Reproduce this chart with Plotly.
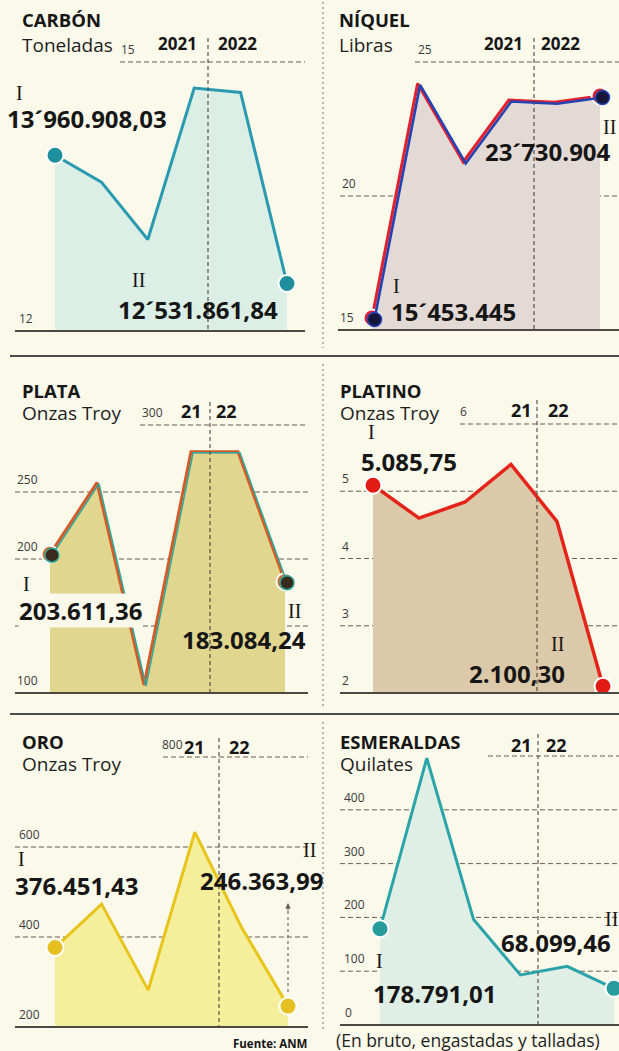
import plotly.graph_objects as go

W, H = 619, 1051
BG = "#fbf9ea"
INK = "#161616"
GRID = "#6b5d55"

# ---------------- data ----------------
quarters = ["2021-I", "2021-II", "2021-III", "2021-IV", "2022-I", "2022-II"]

carbon_mt = [13.96, 13.66, 13.02, 14.71, 14.66, 12.53]        # millones de toneladas
nickel_mlb = [15.45, 24.20, 21.27, 23.58, 23.50, 23.73]       # millones de libras
silver_koz = [203.6, 257.0, 106.0, 280.0, 280.0, 183.1]       # miles de onzas troy
platinum_koz = [5.09, 4.60, 4.84, 5.40, 4.55, 2.10]           # miles de onzas troy
gold_koz = [376.5, 473.0, 282.0, 633.0, 422.0, 246.4]         # miles de onzas troy
emerald_kct = [178.8, 496.0, 196.0, 93.0, 109.0, 68.1]        # miles de quilates

carbon_ticks = [12, 15]
carbon_tick_text = ["12", "15"]
nickel_ticks = [15, 20, 25]
nickel_tick_text = ["15", "20", "25"]
silver_ticks = [100, 150, 200, 250, 300]
silver_tick_text = ["100", "", "200", "250", "300"]
platinum_ticks = [2, 3, 4, 5, 6]
platinum_tick_text = ["2", "3", "4", "5", "6"]
gold_ticks = [200, 400, 600, 800]
gold_tick_text = ["200", "400", "600", "800"]
emerald_ticks = [0, 100, 200, 300, 400, 500]
emerald_tick_text = ["0", "100", "200", "300", "400", ""]

carbon_labels = ["13´960.908,03", "12´531.861,84"]
nickel_labels = ["15´453.445", "23´730.904"]
silver_labels = ["203.611,36", "183.084,24"]
platinum_labels = ["5.085,75", "2.100,30"]
gold_labels = ["376.451,43", "246.363,99"]
emerald_labels = ["178.791,01", "68.099,46"]

years_full = ["2021", "2022"]
years_short = ["21", "22"]
period_marks = ["I", "II"]

# ---------------- layout of panels ----------------
panels = [
    dict(name="CARBÓN", unit="Toneladas", vals=carbon_mt, ticks=carbon_ticks, ticktext=carbon_tick_text,
         labels=carbon_labels, years=years_full,
         L=0, R=310, x0=55, x5=287, base=331, top=62,
         grid_x0=[15, 120], grid_x1=305, tick_x=[17, 119],
         div_x=208, div_top=38,
         line="#2a9ab0", lw=3, fill="#dcefe6", mk="#1f8f9e",
         head_x=21, title_y=20, unit_y=45, year_x=[157, 217], year_y=43, year_size=17,
         roman_xy=[(15, 93), (131, 280)], label_xy=[(6, 118), (117, 310)], label_bg=[True, False]),
    dict(name="NÍQUEL", unit="Libras", vals=nickel_mlb, ticks=nickel_ticks, ticktext=nickel_tick_text,
         labels=nickel_labels, years=years_full,
         L=323, R=619, x0=372, x5=600, base=330, top=62,
         grid_x0=[338, 340, 415], grid_x1=619, tick_x=[338, 340, 416],
         div_x=534, div_top=38,
         line="#e3202c", lw=3, fill="#e3d9d5", mk="#e3202c",
         head_x=338, title_y=20, unit_y=45, year_x=[483, 540], year_y=43, year_size=17,
         roman_xy=[(392, 286), (602, 127)], label_xy=[(390, 311), (484, 152)], label_bg=[False, False],
         shadow=dict(line="#2343b4", lw=2.6, mk="#15163a", mkline="#2343b4", dx=2.5, dy=1.5)),
    dict(name="PLATA", unit="Onzas Troy", vals=silver_koz, ticks=silver_ticks, ticktext=silver_tick_text,
         labels=silver_labels, years=years_short,
         L=0, R=310, x0=50, x5=285, base=693, top=425,
         grid_x0=[15, 15, 15, 15, 140], grid_x1=308, tick_x=[15, 15, 15, 15, 140],
         div_x=210, div_top=402,
         line="#d45a28", lw=3, fill="#e0d68e", mk="#d06a30",
         head_x=21, title_y=390, unit_y=413, year_x=[180, 215], year_y=411, year_size=18,
         roman_xy=[(22, 584), (287, 611)], label_xy=[(18, 610), (181, 639)], label_bg=[True, False],
         shadow=dict(line="#2fa79a", lw=1.6, mk="#3a2a1e", mkline="#2fa79a", dx=2.0, dy=1.0)),
    dict(name="PLATINO", unit="Onzas Troy", vals=platinum_koz, ticks=platinum_ticks, ticktext=platinum_tick_text,
         labels=platinum_labels, years=years_short,
         L=323, R=619, x0=373, x5=603, base=693, top=424,
         grid_x0=[340, 340, 340, 340, 460], grid_x1=619, tick_x=[340, 340, 340, 340, 458],
         div_x=537, div_top=400,
         line="#e42418", lw=3.5, fill="#dbc9a9", mk="#e21c14",
         head_x=339, title_y=390, unit_y=413, year_x=[510, 547], year_y=410, year_size=18,
         roman_xy=[(367, 432), (550, 644)], label_xy=[(360, 461), (468, 673)], label_bg=[False, False]),
    dict(name="ORO", unit="Onzas Troy", vals=gold_koz, ticks=gold_ticks, ticktext=gold_tick_text,
         labels=gold_labels, years=years_short,
         L=0, R=310, x0=55, x5=288, base=1027, top=757,
         grid_x0=[15, 15, 15, 163], grid_x1=308, tick_x=[17, 17, 17, 160],
         div_x=219, div_top=738,
         line="#e8c41a", lw=3, fill="#f5ef9c", mk="#e6c020",
         head_x=21, title_y=741, unit_y=764, year_x=[183, 228], year_y=747, year_size=18,
         roman_xy=[(17, 859), (302, 850)], label_xy=[(14, 885), (199, 880)], label_bg=[False, False]),
    dict(name="ESMERALDAS", unit="Quilates", vals=emerald_kct, ticks=emerald_ticks, ticktext=emerald_tick_text,
         labels=emerald_labels, years=years_short,
         L=323, R=619, x0=380, x5=614, base=1025, top=756,
         grid_x0=[340, 340, 340, 340, 340, 488], grid_x1=619, tick_x=[343, 342, 342, 342, 342, 488],
         div_x=538, div_top=734,
         line="#2aa4a8", lw=3, fill="#e0efe6", mk="#279c9c",
         head_x=339, title_y=741, unit_y=764, year_x=[510, 545], year_y=745, year_size=18,
         roman_xy=[(375, 961), (604, 919)], label_xy=[(372, 993), (500, 942)],
         label_bg=[False, False]),
]


def fx(px):
    return px / W


def fy(py):
    return 1 - py / H


PAD = 16


def axis_geom(x0, x5, L, R, base, top, ymin, ymax):
    n = len(quarters) - 1
    s = (x5 - x0) / n
    xr = [-(x0 - L) / s, n + (R - x5) / s]
    ppu = (base - top) / (ymax - ymin)
    yr = [ymin - PAD / ppu, ymax + PAD / ppu]
    xd = [fx(L), fx(R)]
    yd = [fy(base + PAD), fy(top - PAD)]
    return xr, yr, xd, yd


fig = go.Figure()
shapes = []
annotations = []
layout_axes = {}


def txt(text, x, y, size, bold=False, serif=False, color=INK, bg="rgba(0,0,0,0)"):
    annotations.append(dict(
        text=text, x=fx(x), y=fy(y), xref="paper", yref="paper",
        xanchor="left", yanchor="middle", showarrow=False, bgcolor=bg, borderpad=0,
        font=dict(family="Liberation Serif" if serif else "Open Sans", size=size,
                  color=color, weight=700 if bold else 400)))


def add_axes(idx, xr, yr, xd, yd):
    sfx = "" if idx == 1 else str(idx)
    layout_axes["xaxis" + sfx] = dict(domain=xd, range=xr, type="category", visible=False,
                                      categoryorder="array", categoryarray=quarters, fixedrange=True)
    layout_axes["yaxis" + sfx] = dict(domain=yd, range=yr, visible=False, fixedrange=True)
    return ("x" + sfx, "y" + sfx)


next_shadow = len(panels) + 1

for i, p in enumerate(panels, start=1):
    ymin, ymax = p["ticks"][0], p["ticks"][-1]
    xr, yr, xd, yd = axis_geom(p["x0"], p["x5"], p["L"], p["R"], p["base"], p["top"], ymin, ymax)
    xa, ya = add_axes(i, xr, yr, xd, yd)

    # baseline helper for the area fill
    fig.add_trace(go.Scatter(x=quarters, y=[ymin] * len(quarters), mode="lines",
                             line=dict(width=0), xaxis=xa, yaxis=ya, hoverinfo="skip", showlegend=False))
    fig.add_trace(go.Scatter(x=quarters, y=p["vals"], mode="lines", fill="tonexty",
                             fillcolor=p["fill"], line=dict(color=p["line"], width=p["lw"]),
                             xaxis=xa, yaxis=ya, showlegend=False))
    ends_x = [quarters[0], quarters[-1]]
    ends_y = [p["vals"][0], p["vals"][-1]]
    fig.add_trace(go.Scatter(x=ends_x, y=ends_y, mode="markers", cliponaxis=False,
                             marker=dict(size=17, color=p["mk"], line=dict(color="#ffffff", width=2)),
                             xaxis=xa, yaxis=ya, showlegend=False))

    if "shadow" in p:
        sh = p["shadow"]
        sxr, syr, sxd, syd = axis_geom(p["x0"] + sh["dx"], p["x5"] + sh["dx"], p["L"], p["R"],
                                       p["base"] + sh["dy"], p["top"] + sh["dy"], ymin, ymax)
        sxa, sya = add_axes(next_shadow, sxr, syr, sxd, syd)
        next_shadow += 1
        fig.add_trace(go.Scatter(x=quarters, y=p["vals"], mode="lines",
                                 line=dict(color=sh["line"], width=sh["lw"]),
                                 xaxis=sxa, yaxis=sya, showlegend=False))
        fig.add_trace(go.Scatter(x=ends_x, y=ends_y, mode="markers", cliponaxis=False,
                                 marker=dict(size=14, color=sh["mk"], line=dict(color=sh["mkline"], width=1.5)),
                                 xaxis=sxa, yaxis=sya, showlegend=False))

    # grid lines, baseline and tick labels
    for k, (t, tt) in enumerate(zip(p["ticks"], p["ticktext"])):
        base_line = (k == 0)
        shapes.append(dict(type="line", xref="paper", yref=ya, x0=fx(p["grid_x0"][k]), x1=fx(p["grid_x1"]),
                           y0=t, y1=t, layer="above" if base_line else "below",
                           line=dict(color="#4e4844" if base_line else GRID, width=2 if base_line else 1,
                                     dash="solid" if base_line else "5px,3px")))
        if tt:
            annotations.append(dict(text=tt, x=fx(p["tick_x"][k]), y=t, xref="paper", yref=ya,
                                    xanchor="left", yanchor="bottom", yshift=2, showarrow=False,
                                    font=dict(family="Open Sans", size=12, color="#3a3a3a")))

    # year divider
    shapes.append(dict(type="line", xref="paper", yref="paper", x0=fx(p["div_x"]), x1=fx(p["div_x"]),
                       y0=fy(p["div_top"]), y1=fy(p["base"]), layer="above",
                       line=dict(color="#4f4340", width=1.1, dash="4px,3px")))

    # header texts
    txt(p["name"], p["head_x"], p["title_y"], 18.5, bold=True)
    txt(p["unit"], p["head_x"], p["unit_y"], 19, color="#1e1e1e")
    for yx, ylab in zip(p["year_x"], p["years"]):
        txt(ylab, yx, p["year_y"], p["year_size"], bold=True)

    # period marks and value labels
    for (rx, ry), mark in zip(p["roman_xy"], period_marks):
        txt(mark, rx, ry, 20, serif=True)
    for (lx, ly), lab, bg in zip(p["label_xy"], p["labels"], p["label_bg"]):
        txt(lab, lx, ly, 24, bold=True, bg=BG if bg else "rgba(0,0,0,0)")

# dashed arrow in the gold panel (from II marker up to its label)
shapes.append(dict(type="line", xref="x5", yref="paper", x0=quarters[-1], x1=quarters[-1],
                   y0=fy(992), y1=fy(908), line=dict(color=GRID, width=1.1, dash="3px,3px")))
annotations.append(dict(text="", x=quarters[-1], y=fy(903), xref="x5", yref="paper", showarrow=True,
                        ax=0, ay=9, arrowhead=2, arrowsize=1, arrowwidth=1.1, arrowcolor=GRID))

# separators
shapes.append(dict(type="line", xref="paper", yref="paper", x0=fx(10), x1=1, y0=fy(356), y1=fy(356),
                   line=dict(color="#4a4a4a", width=2)))
shapes.append(dict(type="line", xref="paper", yref="paper", x0=fx(10), x1=1, y0=fy(714), y1=fy(714),
                   line=dict(color="#4a4a4a", width=2)))
for (a, b) in [(2, 348), (364, 706), (722, 1030)]:
    shapes.append(dict(type="line", xref="paper", yref="paper", x0=fx(323), x1=fx(323), y0=fy(a), y1=fy(b),
                       line=dict(color="#777066", width=1, dash="2px,3px")))

# footer texts
txt("Fuente: ANM", 232, 1043, 11.5, bold=True)
txt("(En bruto, engastadas y talladas)", 335, 1040, 17.5, color="#1e1e1e")

fig.update_layout(
    width=W, height=H, autosize=False,
    margin=dict(l=0, r=0, t=0, b=0),
    paper_bgcolor=BG, plot_bgcolor="rgba(0,0,0,0)",
    showlegend=False, shapes=shapes, annotations=annotations,
    **layout_axes,
)

fig.write_html(
    "out.html",
    config={"displayModeBar": False},
    post_script="document.body.style.margin='0';document.body.style.overflow='hidden';"
                "document.documentElement.style.overflow='hidden';",
)
